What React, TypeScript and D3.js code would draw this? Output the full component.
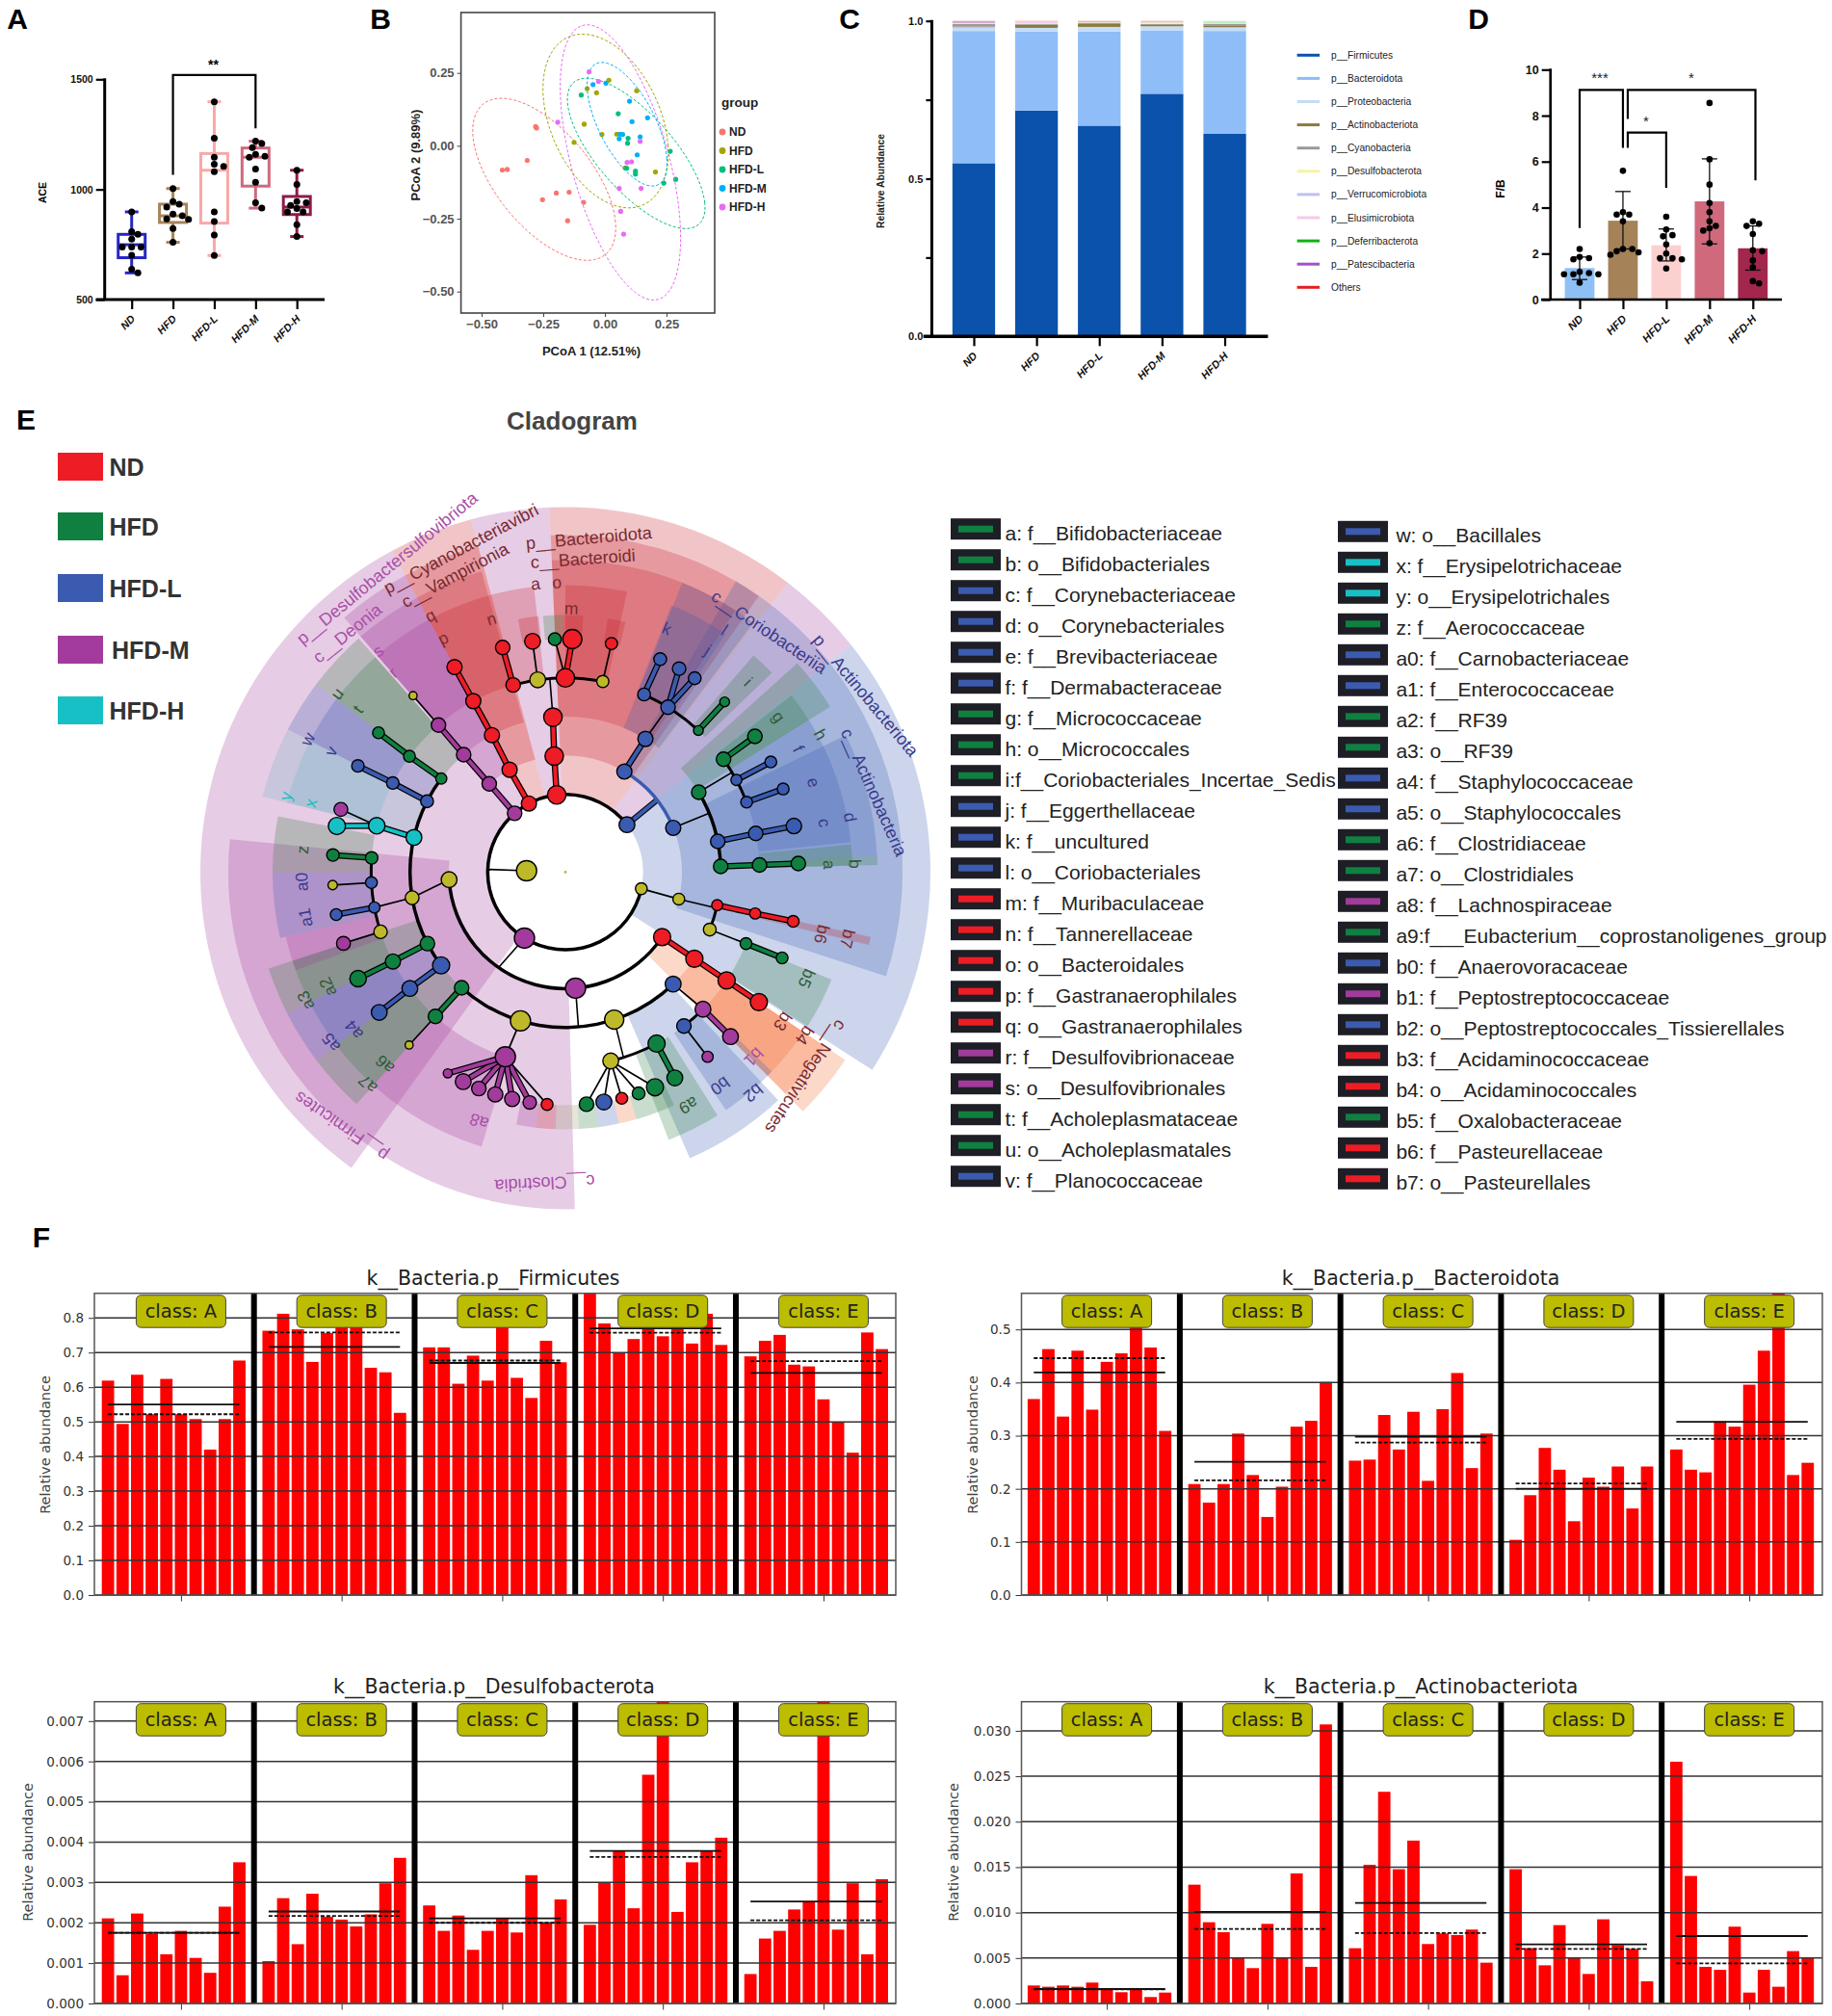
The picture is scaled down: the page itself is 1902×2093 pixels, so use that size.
import { useEffect, useRef } from "react";
import * as d3 from "d3";

const groups = ["ND", "HFD", "HFD-L", "HFD-M", "HFD-H"];
const SANS = "'Liberation Sans', Arial, sans-serif";
const DEJAVU = "'DejaVu Sans', sans-serif";

// panel A
const aceColors = ["#2626c4", "#a6845a", "#f9a8a8", "#cf6a7e", "#8e1a4a"];
const acePoints = [
  [898, 808, 796, 774, 738, 738, 738, 701, 638, 621],
  [1004, 945, 933, 920, 888, 880, 866, 864, 822, 760],
  [1398, 1232, 1146, 1114, 1105, 1080, 898, 854, 793, 700],
  [1219, 1208, 1190, 1159, 1150, 1146, 1092, 1032, 939, 915],
  [1087, 1023, 945, 939, 927, 913, 898, 898, 840, 786],
];
const aceBoxes = [
  [621, 690, 749, 796, 898],
  [760, 850, 880, 933, 1004],
  [700, 847, 1087, 1163, 1398],
  [915, 1015, 1146, 1188, 1219],
  [786, 886, 920, 968, 1087],
];

// panel B
const pcoaColors = ["#F8766D", "#A3A500", "#00BF7D", "#00B0F6", "#E76BF3"];
const pcoaX = [
  [-0.281, -0.277, -0.315, -0.416, -0.396, -0.197, -0.145, -0.253, -0.086, -0.151],
  [-0.072, -0.034, 0.016, 0.129, -0.084, -0.125, -0.012, 0.048, 0.082, 0.205],
  [-0.096, 0.054, 0.094, 0.092, 0.088, 0.124, 0.124, 0.265, 0.239, 0.287],
  [-0.048, 0.004, 0.1, 0.173, 0.11, 0.062, 0.072, 0.058, 0.143, 0.131],
  [-0.064, -0.026, -0.191, 0.143, 0.108, 0.09, 0.058, 0.147, 0.064, 0.076],
];
const pcoaY = [
  [0.066, 0.061, -0.05, -0.083, -0.081, -0.162, -0.159, -0.185, -0.194, -0.257],
  [0.196, 0.182, 0.225, 0.189, 0.074, 0.012, 0.039, 0.04, -0.076, -0.09],
  [0.174, 0.11, 0.026, 0.009, -0.077, -0.087, -0.097, -0.019, -0.128, -0.115],
  [0.21, 0.215, 0.153, 0.096, 0.083, 0.04, 0.039, 0.024, 0.031, -0.031],
  [0.254, 0.221, 0.081, 0.015, -0.055, -0.057, -0.146, -0.146, -0.225, -0.303],
];
// centre x, centre y, half width, half height, correlation
const pcoaEllipses = [
  [-0.246, -0.115, 0.29, 0.278, -0.6],
  [0.003, 0.085, 0.254, 0.298, -0.37],
  [0.127, -0.026, 0.279, 0.258, -0.72],
  [0.09, 0.074, 0.162, 0.212, -0.63],
  [0.063, -0.057, 0.244, 0.472, -0.55],
];

// panel C
const phyla = [
  "p__Firmicutes", "p__Bacteroidota", "p__Proteobacteria", "p__Actinobacteriota", "p__Cyanobacteria",
  "p__Desulfobacterota", "p__Verrucomicrobiota", "p__Elusimicrobiota", "p__Deferribacterota",
  "p__Patescibacteria", "Others",
];
const phylaColors = [
  "#0a52ab", "#8fbdf7", "#c4dcf7", "#8a7a3e", "#9a9a9a", "#f7f3a0", "#c0c0f0", "#f7c8e8", "#14b014", "#a850c8", "#e61e1e",
];
const phylaBarOpacity = [1, 1, 1, 1, 1, 1, 1, 1, 0.25, 1, 0.45];
const abundance = [
  [0.549, 0.419, 0.012, 0.002, 0.009, 0.002, 0.001, 0.001, 0, 0.001, 0.004],
  [0.716, 0.25, 0.012, 0.01, 0.003, 0.002, 0.001, 0.005, 0, 0, 0.001],
  [0.668, 0.298, 0.015, 0.011, 0.001, 0.002, 0.001, 0.001, 0, 0, 0.003],
  [0.769, 0.2, 0.014, 0.006, 0.001, 0.005, 0.002, 0.001, 0, 0, 0.002],
  [0.642, 0.326, 0.012, 0.004, 0.006, 0.001, 0.001, 0.001, 0.007, 0, 0],
];

// panel D
const fbColors = ["#8fc0f5", "#a58258", "#fdd0d0", "#d0697c", "#a3264d"];
const fbMeans = [1.37, 3.43, 2.36, 4.27, 2.23];
const fbLow = [0.87, 2.2, 1.68, 2.42, 1.28];
const fbHigh = [1.85, 4.7, 3.07, 6.12, 3.2];
const fbPoints = [
  [2.2, 1.85, 1.8, 1.75, 1.2, 1.15, 1.1, 1.1, 1.1, 0.73],
  [5.6, 3.8, 3.7, 3.7, 3.4, 2.2, 2.2, 2.1, 2.05, 1.95],
  [3.6, 3.05, 2.8, 2.75, 2.4, 2.0, 1.8, 1.8, 1.75, 1.35],
  [8.55, 6.1, 5, 4.2, 3.8, 3.4, 3.2, 3.1, 3.0, 2.45],
  [3.4, 3.3, 3.2, 2.85, 2.15, 2.1, 1.7, 1.4, 0.8, 0.7],
];

// panel E
const cladeColors: any = { r: "#ee1c25", g: "#0f8040", b: "#3b5bb0", p: "#a23b9c", c: "#17c0c4", y: "#bdb92a", k: "#000" };
const labelColors: any = { r: "#7a2a30", g: "#2f5a3a", b: "#3a3a8c", p: "#a84ea8", c: "#17c0c4" };
const keyGroups = [["ND", "r"], ["HFD", "g"], ["HFD-L", "b"], ["HFD-M", "p"], ["HFD-H", "c"]];
// angle from, angle to, inner depth, outer ring, colour
const cladeWedges: any[] = [
  [215.9, 331.6, 2, "phylum", "p"], [345, 357.5, 2, "phylum", "p"], [37.5, 51.5, 2, "phylum", "p"],
  [-2.5, 37.5, 2, "phylum", "r"], [-28.4, -15, 2, "phylum", "r"], [51.5, 122.8, 2, "phylum", "b"],
  [214.6, 275.6, 3, "class", "p"], [178.4, 214.6, 3, "class", "p"], [-41, -28.4, 3, "class", "p"],
  [-2.5, 35, 3, "class", "r"], [-28.4, -15, 3, "class", "r"], [30.4, 51.5, 3, "class", "b"],
  [51.5, 108, 3, "class", "b"], [123.9, 135.2, 3, "class", "o"],
  [-2.5, 33, 4, "order", "r"], [-28.4, -15.6, 4, "order", "r"], [-41, -28.4, 4, "order", "p"],
  [123.9, 135.2, 4, "order", "o"], [137, 156.5, 4, "order", "b"], [222, 233, 4, "order", "g"],
  [243, 252, 4, "order", "g"], [233, 243, 4, "order", "b"], [284, 297.2, 4, "order", "c"],
  [297.2, 307, 4, "order", "b"], [307, 318.5, 4, "order", "g"], [22, 37, 4, "order", "b"],
  [48, 58, 4, "order", "g"], [64, 87, 4, "order", "b"], [87, 88.7, 4, "order", "g"], [102, 103.5, 5, "order", "r"],
  [0, 12.4, 5, "family", "r"], [-15.6, -6.3, 5, "family", "r"], [-28.4, -15.6, 5, "family", "r"],
  [-41, -28.4, 5, "family", "p"], [123.9, 135.2, 5, "family", "o"], [112, 122.5, 5, "family", "g"],
  [148, 158.9, 5, "family", "g"], [134, 146, 5, "family", "b"], [222, 233, 5, "family", "g"],
  [243, 252, 5, "family", "g"], [233, 243, 5, "family", "b"], [307, 318.5, 5, "family", "g"],
  [297.2, 307, 5, "family", "b"], [284, 297.2, 5, "family", "c"], [270, 281, 5, "wide", "g"],
  [257, 270, 5, "wide", "b"], [250, 257, 5, "family", "p"], [197, 214, 5, "family", "p"],
  [214, 222, 5, "family", "p"], [21.7, 31.3, 5, "family", "b"], [31.3, 34, 5, "family", "b"],
  [41, 46, 5, "family", "g"], [52, 58, 5, "family", "g"], [58, 74, 5, "family", "b"], [74, 84, 5, "family", "b"],
  [84.5, 88.7, 5, "family", "g"],
  [155, 159.5, 6, "leaf", "g"], [159.5, 164, 6, "leaf", "g"], [164, 168, 6, "leaf", "o"], [168, 172.6, 6, "leaf", "b"],
  [172.6, 177, 6, "leaf", "g"], [177, 182.2, 6, "leaf", "k"], [182.2, 186.6, 6, "leaf", "r"], [186.6, 191, 6, "leaf", "p"],
  [-10.6, -6, 6, "leaf", "r"], [-5, -0.5, 6, "leaf", "g"], [-0.5, 4, 6, "leaf", "r"], [9.5, 13.5, 6, "leaf", "r"],
];
// depth, angle from, angle to, colour, width
const cladeArcs: any[] = [
  [2, 102.3, 412.4, "k", 3.5], [3, 123.9, 266.3, "k", 3.5], [3, 30.4, 67.7, "b", 3.5], [4, 136.1, 221.9, "k", 3.5],
  [4, 233.1, 307, "k", 3.5], [4, 59.1, 87.9, "k", 3.5], [4, 102.3, 111.7, "k", 3], [5, -15.6, 11.1, "k", 3],
  [5, 23.9, 43.2, "k", 3], [5, 54.5, 68.9, "k", 3], [5, 134.9, 142.4, "k", 3], [5, 152, 166.5, "k", 3], [5, 252.1, 274.2, "k", 3],
];
// angle, depth, angle, depth, colour
const cladeStalks: any[] = [
  [272, 1, 272, 2, "k"], [211.8, 2, 215, 3, "k"], [175, 3, 175.2, 4, "k"], [161.7, 4, 162.6, 5, "k"], [67.7, 3, 67.7, 4, "k"],
  [59.1, 4, 59.1, 5, "k"], [103.4, 3, 103.4, 4, "k"], [-4.6, 4, -4.6, 5, "k"], [52.4, 2, 51.8, 3, "b"],
];
// id, parent, angle, depth, size, colour, link
const cladeNodes: any[] = [
  ["y0", "", 272, 1, 4.7, "y", ""],
  ["B1", "", -6.4, 2, 4.2, "r", ""], ["B2", "B1", -5.5, 3, 4.2, "r", "t"], ["B3", "B2", -4.6, 4, 4.2, "r", "t"],
  ["B4", "", -8.2, 5, 3.4, "y", ""], ["B5", "", 0, 5, 4.2, "r", ""], ["B6", "", -15.6, 5, 3, "r", ""], ["B7", "", 11.1, 5, 2.3, "y", ""],
  ["", "B6", -15.6, 6, 3, "r", "t"], ["", "B4", -8.1, 6, 3.4, "r", "n"], ["", "B5", -2.6, 6, 2.5, "g", "n"],
  ["", "B5", 1.7, 6, 4.4, "r", "t"], ["", "B7", 11.4, 6, 2.3, "r", "n"],
  ["C1", "", -28, 2, 3.2, "r", ""], ["C2", "C1", -28.6, 3, 3.2, "r", "t"], ["C3", "C2", -28.2, 4, 3.2, "r", "t"],
  ["C4", "C3", -28.3, 5, 3.2, "r", "t"], ["", "C4", -28.4, 6, 3.2, "r", "t"],
  ["D1", "", -40.8, 2, 3, "p", ""], ["D2", "D1", -40.8, 3, 3, "p", "t"], ["D3", "D2", -40.9, 4, 3, "p", "t"],
  ["D4", "D3", -40.8, 5, 3, "p", "t"], ["", "D4", -40.8, 6, 1.1, "y", "n"],
  ["A1", "", 52.4, 2, 3.4, "b", ""], ["A2", "", 30.4, 3, 3.2, "b", ""], ["A3", "A2", 31, 4, 3.2, "b", "t"], ["A4", "A3", 31.9, 5, 3, "b", "n"],
  ["A5", "", 23.9, 5, 2.5, "b", ""], ["A6", "", 43.2, 5, 1.6, "g", ""],
  ["", "A5", 24, 6, 2.5, "b", "t"], ["", "A4", 29.2, 6, 2.7, "b", "t"], ["", "A4", 33.7, 6, 2.5, "b", "t"], ["", "A6", 43.1, 6, 1.6, "g", "t"],
  ["A7", "", 67.7, 3, 3.2, "b", ""], ["A8", "", 59.1, 4, 3, "g", ""], ["A9", "", 78.6, 4, 3, "b", ""], ["A10", "", 87.9, 4, 3, "g", ""],
  ["A11", "", 54.5, 5, 3, "g", ""], ["A12", "", 61.7, 5, 2, "b", ""], ["A13", "", 68.9, 5, 2.2, "b", ""],
  ["", "A11", 54.4, 6, 3, "g", "t"], ["", "A12", 61.8, 6, 2.2, "b", "t"], ["", "A13", 69.1, 6, 2.2, "b", "t"],
  ["A14", "A9", 78.5, 5, 3, "b", "t"], ["", "A14", 78.6, 6, 3.3, "b", "t"], ["A15", "A10", 87.9, 5, 3, "g", "t"], ["", "A15", 87.9, 6, 3, "g", "t"],
  ["Y1", "", 102.3, 2, 2.2, "y", ""], ["Y2", "Y1", 103.4, 3, 2.2, "y", "n"], ["Y3", "", 102.3, 4, 2, "r", ""], ["Y4", "", 111.7, 4, 2.5, "y", ""],
  ["Y5", "Y3", 102.3, 5, 2, "r", "t"], ["", "Y5", 102.2, 6, 2.2, "r", "t"], ["Y6", "Y4", 111.6, 5, 2.2, "g", "n"], ["", "Y6", 111.6, 6, 2.2, "g", "t"],
  ["F1", "", 211.8, 2, 4.7, "p", ""], ["N1", "", 123.9, 3, 3.8, "r", ""], ["CL", "", 175, 3, 4.7, "p", ""], ["BA", "", 266.3, 3, 3.4, "y", ""],
  ["N2", "N1", 123.9, 4, 3.8, "r", "t"], ["N3", "N2", 123.9, 5, 3.8, "r", "t"], ["", "N3", 123.9, 6, 3.8, "r", "t"],
  ["O1", "", 136.1, 4, 3.4, "b", ""], ["O2", "", 161.7, 4, 4.4, "y", ""], ["O3", "", 196.8, 4, 4.7, "y", ""], ["O4", "", 221.9, 4, 3, "g", ""],
  ["P1", "O1", 134.9, 5, 3.4, "p", "n"], ["P2", "", 142.4, 5, 3, "b", ""], ["", "P1", 134.9, 6, 3.4, "p", "t"], ["", "P2", 142.4, 6, 2, "p", "n"],
  ["Q1", "", 166.5, 5, 3.4, "y", ""], ["Q2", "", 152, 5, 3.8, "g", ""], ["", "Q2", 152, 6, 3.4, "g", "t"],
  ["", "Q1", 157.4, 6, 3.8, "g", "n"], ["", "Q1", 161.7, 6, 2.5, "g", "n"], ["", "Q1", 166, 6, 2.2, "r", "n"], ["", "Q1", 170.5, 6, 3.4, "b", "n"], ["", "Q1", 174.8, 6, 3, "g", "n"],
  ["R1", "O3", 198, 5, 4.7, "p", "n"], ["", "R1", 184.5, 6, 2.2, "r", "n"], ["", "R1", 188.8, 6, 2.7, "p", "t"], ["", "R1", 193.2, 6, 3.2, "p", "t"],
  ["", "R1", 197.5, 6, 3.2, "p", "t"], ["", "R1", 201.8, 6, 3, "p", "t"], ["", "R1", 206, 6, 3.4, "p", "t"], ["", "R1", 210.3, 6, 1.4, "p", "t"],
  ["S1", "O4", 222, 5, 3, "g", "t"], ["", "S1", 222.1, 6, 1.1, "y", "n"],
  ["T1", "", 307, 4, 2, "g", ""], ["T2", "", 297.1, 4, 2.5, "b", ""], ["T3", "", 282.9, 4, 3.4, "c", ""], ["T4", "BA", 260.5, 4, 2.8, "y", "n"],
  ["T5", "", 242.6, 4, 3, "g", ""], ["T6", "", 233.1, 4, 3.8, "b", ""],
  ["T7", "T1", 306.6, 5, 2.2, "g", "t"], ["", "T7", 306.7, 6, 2.2, "g", "t"], ["T8", "T2", 297.3, 5, 2.4, "b", "t"], ["", "T8", 297.1, 6, 2.4, "b", "t"],
  ["T9", "T3", 283.8, 5, 3.6, "c", "t"], ["", "T9", 281.4, 6, 3.8, "c", "t"], ["", "T9", 285.6, 6, 2.8, "p", "n"],
  ["U1", "", 274.2, 5, 2.4, "g", ""], ["U2", "", 266.9, 5, 2.2, "b", ""], ["U3", "T4", 259.5, 5, 2, "b", "n"], ["U4", "", 252.1, 5, 2.7, "y", ""],
  ["", "U1", 274.2, 6, 2.4, "g", "t"], ["", "U2", 266.8, 6, 1.5, "y", "n"], ["", "U3", 259.5, 6, 2.2, "b", "t"], ["", "U4", 252.2, 6, 2.8, "p", "n"],
  ["V1", "T5", 242.6, 5, 3.2, "g", "t"], ["", "V1", 242.8, 6, 3.6, "g", "t"], ["V2", "T6", 233.2, 5, 3.4, "b", "t"], ["", "V2", 233, 6, 3.4, "b", "t"],
];
// text, angle, ring, colour
const cladeLetters: any[] = [
  ["k", 22.6, 0, "b"], ["l", 33.3, 1, "b"], ["j", 32.7, 0, "b"], ["i", 43.9, 0, "g"], ["g", 53.9, 0, "g"], ["h", 61.7, 1, "g"],
  ["f", 62.1, 0, "b"], ["e", 70.1, 0, "b"], ["c", 79.2, 0, "b"], ["d", 79.1, 1, "b"], ["a", 88.4, 0, "g"], ["b", 88.4, 1, "g"],
  ["b6", 103.6, 0, "r"], ["b7", 103.3, 1, "r"], ["b5", 113.8, 0, "g"], ["b3", 124.5, 0, "r"], ["b4", 124.3, 1, "r"], ["b1", 134.5, 0, "p"],
  ["b2", 139.6, 1, "b"], ["b0", 144.1, 0, "b"], ["a9", 152.2, 0, "g"], ["a8", 199.1, 0, "p"], ["a6", 223.2, 0, "g"], ["a7", 223, 1, "g"],
  ["a4", 233.3, 0, "b"], ["a5", 234, 1, "b"], ["a2", 244.2, 0, "g"], ["a3", 243.7, 1, "g"], ["a1", 260.1, 0, "b"], ["a0", 267.9, 0, "b"],
  ["z", 274.9, 0, "g"], ["x", 285.2, 0, "c"], ["y", 285.2, 1, "c"], ["v", 297.3, 0, "b"], ["w", 297.3, 1, "b"], ["t", 308.1, 0, "g"],
  ["u", 308, 1, "g"], ["r", 319.2, 0, "p"], ["s", 319.7, 1, "p"], ["p", 332.4, 0, "r"], ["q", 332.2, 1, "r"], ["n", 343.7, 0, "r"],
  ["a", 354.1, 1, "r"], ["o", 358.3, 1, "r"], ["m", 1.3, 0, "r"],
];
// text, angle, radius, rotation, colour
const cladeNames: any[] = [
  ["p__Bacteroidota", 4, 348, -5, "r"], ["c__Bacteroidi", 3.2, 326, -4, "r"], ["p__Cyanobacteriavibri", -17.9, 353, -28, "r"],
  ["c__Vampirionia", -20.4, 329, -28, "r"], ["p__Desulfobactersulfovibriota", -30.4, 366, -39.5, "p"], ["c__Deonia", -42.4, 336, -39, "p"],
  ["p__Actinobacteriota", 59.5, 362, 50, "b"], ["c__Coriobacteriia", 40.3, 327, 34, "b"], ["c__Actinobacteria", 75.5, 331, 66, "b"],
  ["c__Negativicutes", 130.4, 328, 123.7, "r"], ["p__Firmicutes", 221.4, 352, 214.4, "p"], ["c__Clostridia", 183.8, 324, 177, "p"],
];
const legendLeft: any[] = [
  ["a: f__Bifidobacteriaceae", "g"], ["b: o__Bifidobacteriales", "g"], ["c: f__Corynebacteriaceae", "b"], ["d: o__Corynebacteriales", "b"],
  ["e: f__Brevibacteriaceae", "b"], ["f: f__Dermabacteraceae", "b"], ["g: f__Micrococcaceae", "g"], ["h: o__Micrococcales", "g"],
  ["i:f__Coriobacteriales_Incertae_Sedis", "g"], ["j: f__Eggerthellaceae", "b"], ["k: f__uncultured", "b"], ["l: o__Coriobacteriales", "b"],
  ["m: f__Muribaculaceae", "r"], ["n: f__Tannerellaceae", "r"], ["o: o__Bacteroidales", "r"], ["p: f__Gastranaerophilales", "r"],
  ["q: o__Gastranaerophilales", "r"], ["r: f__Desulfovibrionaceae", "p"], ["s: o__Desulfovibrionales", "p"], ["t: f__Acholeplasmataceae", "g"],
  ["u: o__Acholeplasmatales", "g"], ["v: f__Planococcaceae", "b"],
];
const legendRight: any[] = [
  ["w: o__Bacillales", "b"], ["x: f__Erysipelotrichaceae", "c"], ["y: o__Erysipelotrichales", "c"], ["z: f__Aerococcaceae", "g"],
  ["a0: f__Carnobacteriaceae", "b"], ["a1: f__Enterococcaceae", "b"], ["a2: f__RF39", "g"], ["a3: o__RF39", "g"],
  ["a4: f__Staphylococcaceae", "b"], ["a5: o__Staphylococcales", "b"], ["a6: f__Clostridiaceae", "g"], ["a7: o__Clostridiales", "g"],
  ["a8: f__Lachnospiraceae", "p"], ["a9:f___Eubacterium__coprostanoligenes_group", "g"], ["b0: f__Anaerovoracaceae", "b"],
  ["b1: f__Peptostreptococcaceae", "p"], ["b2: o__Peptostreptococcales_Tissierellales", "b"], ["b3: f__Acidaminococcaceae", "r"],
  ["b4: o__Acidaminococcales", "r"], ["b5: f__Oxalobacteraceae", "g"], ["b6: f__Pasteurellaceae", "r"], ["b7: o__Pasteurellales", "r"],
];

// panel F
const classNames = ["class: A", "class: B", "class: C", "class: D", "class: E"];
const firmicutes = [
  [0.619, 0.494, 0.636, 0.522, 0.624, 0.522, 0.508, 0.42, 0.508, 0.677],
  [0.763, 0.812, 0.767, 0.673, 0.756, 0.785, 0.785, 0.656, 0.643, 0.526],
  [0.715, 0.715, 0.61, 0.691, 0.619, 0.795, 0.627, 0.569, 0.734, 0.672],
  [0.9, 0.784, 0.699, 0.739, 0.777, 0.747, 0.777, 0.726, 0.812, 0.722],
  [0.689, 0.734, 0.751, 0.665, 0.66, 0.565, 0.5, 0.411, 0.758, 0.71],
];
const firmicutesMean = [0.55, 0.716, 0.67, 0.77, 0.641];
const firmicutesMedian = [0.522, 0.758, 0.677, 0.757, 0.675];
const bacteroidota = [
  [0.369, 0.463, 0.336, 0.46, 0.349, 0.439, 0.455, 0.505, 0.466, 0.309],
  [0.209, 0.174, 0.209, 0.304, 0.226, 0.147, 0.204, 0.317, 0.328, 0.401],
  [0.253, 0.255, 0.339, 0.274, 0.345, 0.215, 0.35, 0.418, 0.239, 0.304],
  [0.104, 0.188, 0.277, 0.236, 0.139, 0.221, 0.204, 0.242, 0.163, 0.242],
  [0.274, 0.236, 0.231, 0.327, 0.317, 0.396, 0.46, 0.57, 0.226, 0.249],
];
const bacteroidotaMean = [0.419, 0.251, 0.298, 0.2, 0.326];
const bacteroidotaMedian = [0.446, 0.216, 0.287, 0.21, 0.294];
const desulfo = [
  [0.00211, 0.0007, 0.00223, 0.00173, 0.00122, 0.0018, 0.00113, 0.00076, 0.0024, 0.0035],
  [0.00105, 0.00261, 0.00147, 0.00272, 0.00215, 0.00208, 0.00191, 0.00221, 0.00298, 0.00361],
  [0.00243, 0.0018, 0.00218, 0.00133, 0.0018, 0.0021, 0.00176, 0.00318, 0.002, 0.00258],
  [0.00195, 0.003, 0.00378, 0.00236, 0.00567, 0.0076, 0.00227, 0.0035, 0.00378, 0.00411],
  [0.00073, 0.00161, 0.0018, 0.00233, 0.00253, 0.0076, 0.00183, 0.00298, 0.00122, 0.00308],
];
const desulfoMean = [0.00175, 0.00228, 0.00211, 0.00378, 0.00253];
const desulfoMedian = [0.00175, 0.00217, 0.002, 0.00363, 0.00206];
const actino = [
  [0.00198, 0.00184, 0.00198, 0.00184, 0.0023, 0.00155, 0.00124, 0.00155, 0.00071, 0.0012],
  [0.01307, 0.00894, 0.00784, 0.00505, 0.00389, 0.00876, 0.00505, 0.01431, 0.00403, 0.0307],
  [0.00608, 0.01526, 0.02329, 0.01477, 0.01792, 0.00654, 0.0077, 0.00753, 0.00813, 0.00449],
  [0.01477, 0.00608, 0.0042, 0.00862, 0.00505, 0.00325, 0.00926, 0.00643, 0.006, 0.00244],
  [0.0266, 0.01403, 0.00403, 0.00371, 0.00845, 0.0012, 0.00371, 0.00184, 0.00576, 0.00505],
];
const actinoMean = [0.00159, 0.01007, 0.01106, 0.0065, 0.00742];
const actinoMedian = [0.00155, 0.0082, 0.00774, 0.006, 0.00442];

const rad = (a: number) => (a * Math.PI) / 180;

// beeswarm offsets, so the dots of a group do not sit on each other
const swarm = (values: number[], y: any, r: number) => {
  const placed: any[] = [];
  return values.map((v) => {
    const py = y(v);
    for (let k = 0; k < 40; k++) {
      const dx = ((k + 1) >> 1) * (k % 2 ? 1 : -1) * r * 0.9;
      if (placed.every((p) => Math.hypot(p[0] - dx, p[1] - py) >= r * 1.9)) {
        placed.push([dx, py]);
        return dx;
      }
    }
    return 0;
  });
};

const catAxis = (svg: any, x: any, y0: number, x0: number, x1: number, font: number, tick: number, labelDy: number, w = 3) => {
  const g = svg.append("g").attr("transform", `translate(0,${y0})`).call(d3.axisBottom(x).tickSize(tick).tickSizeOuter(0));
  g.select(".domain").remove();
  g.selectAll("line").attr("stroke", "#000").attr("stroke-width", 2.2);
  g.selectAll("text")
    .attr("font-family", SANS).attr("font-size", font).attr("font-weight", "bold").attr("font-style", "italic")
    .attr("text-anchor", "end").attr("x", 0).attr("y", 0).attr("dy", ".35em")
    .attr("transform", `translate(1,${labelDy}) rotate(-45)`).attr("fill", "#111");
  svg.append("line").attr("x1", x0).attr("x2", x1).attr("y1", y0).attr("y2", y0).attr("stroke", "#000").attr("stroke-width", w);
};

const valueAxis = (svg: any, y: any, x0: number, top: number, bottom: number, ticks: number[], fmt: any, font: number, tick: number, w = 3) => {
  const g = svg.append("g").attr("transform", `translate(${x0},0)`)
    .call(d3.axisLeft(y).tickValues(ticks).tickFormat(fmt).tickSize(tick).tickPadding(3));
  g.select(".domain").remove();
  g.selectAll("line").attr("stroke", "#000").attr("stroke-width", 2.2);
  g.selectAll("text").attr("font-family", SANS).attr("font-size", font).attr("font-weight", "bold").attr("fill", "#111");
  svg.append("line").attr("x1", x0).attr("x2", x0).attr("y1", top - 1).attr("y2", bottom + 1).attr("stroke", "#000").attr("stroke-width", w);
};

const letter = (svg: any, t: string, x: number, y: number) =>
  svg.append("text").attr("x", x).attr("y", y).attr("dy", ".36em").attr("text-anchor", "middle")
    .attr("font-family", SANS).attr("font-size", 30).attr("font-weight", "bold").attr("fill", "#000").text(t);

const drawAce = (svg: any) => {
  const y = d3.scaleLinear().domain([500, 1500]).range([311, 82.3]);
  const x = d3.scalePoint().domain(groups).range([136.7, 308.2]);
  valueAxis(svg, y, 108.7, 82.3, 311, [500, 1000, 1500], d3.format("d"), 10.5, 9);
  catAxis(svg, x, 311, 99.5, 337, 11, 10, 18);
  groups.forEach((name, i) => {
    const [lo, q1, med, q3, hi] = aceBoxes[i];
    const cx = x(name) as number;
    const c = aceColors[i];
    const g = svg.append("g").attr("stroke", c).attr("stroke-width", 3).attr("fill", "none");
    g.append("line").attr("x1", cx).attr("x2", cx).attr("y1", y(lo)).attr("y2", y(hi));
    [lo, hi].forEach((v) => g.append("line").attr("x1", cx - 7).attr("x2", cx + 7).attr("y1", y(v)).attr("y2", y(v)));
    g.append("rect").attr("x", cx - 14).attr("width", 28).attr("y", y(q3)).attr("height", y(q1) - y(q3)).attr("fill", "#fff");
    g.append("line").attr("x1", cx - 14).attr("x2", cx + 14).attr("y1", y(med)).attr("y2", y(med));
    const off = swarm(acePoints[i], y, 3.6);
    svg.append("g").selectAll("circle").data(acePoints[i]).join("circle")
      .attr("cx", (_: any, k: number) => cx + off[k]).attr("cy", (d: number) => y(d)).attr("r", 3.5).attr("fill", "#000");
  });
  const xa = x("HFD") as number;
  const xb = x("HFD-M") as number;
  svg.append("path").attr("fill", "none").attr("stroke", "#000").attr("stroke-width", 2.2)
    .attr("d", `M${xa},${y(1066)}V${y(1519)}H${xb}V${y(1277)}`);
  svg.append("text").attr("x", (xa + xb) / 2 - 1).attr("y", 72).attr("text-anchor", "middle").attr("font-family", SANS)
    .attr("font-weight", "bold").attr("font-size", 14).text("**");
  svg.append("text").attr("transform", "translate(44,200) rotate(-90)").attr("text-anchor", "middle").attr("dy", ".35em")
    .attr("font-family", SANS).attr("font-weight", "bold").attr("font-size", 10.5).text("ACE");
};

const drawPcoa = (svg: any) => {
  const x = d3.scaleLinear().domain([-0.5, 0.25]).range([500, 692]);
  const y = d3.scaleLinear().domain([-0.5, 0.25]).range([302.7, 75.7]);
  svg.append("rect").attr("x", 478.6).attr("y", 13).attr("width", 263.4).attr("height", 312)
    .attr("fill", "#fff").attr("stroke", "#444").attr("stroke-width", 1.6);
  const fmt = d3.format(".2f");
  const minus = (d: any) => fmt(d).replace("-", "\u2212");
  const gx = svg.append("g").attr("transform", "translate(0,325)").call(d3.axisBottom(x).tickValues([-0.5, -0.25, 0, 0.25]).tickFormat(minus).tickSize(4));
  const gy = svg.append("g").attr("transform", "translate(478.6,0)").call(d3.axisLeft(y).tickValues([-0.5, -0.25, 0, 0.25]).tickFormat(minus).tickSize(4));
  [gx, gy].forEach((g) => {
    g.select(".domain").remove();
    g.selectAll("line").attr("stroke", "#444");
    g.selectAll("text").attr("font-family", SANS).attr("font-size", 13).attr("font-weight", "bold").attr("fill", "#555");
  });
  const line = d3.line().curve(d3.curveCardinalClosed);
  groups.forEach((name, i) => {
    const [cx, cy, rx, ry, rho] = pcoaEllipses[i];
    const pts = d3.range(0, 72).map((k) => {
      const t = (k / 72) * 2 * Math.PI;
      return [x(cx + rx * Math.cos(t)), y(cy + ry * (rho * Math.cos(t) + Math.sqrt(1 - rho * rho) * Math.sin(t)))] as [number, number];
    });
    svg.append("path").attr("d", line(pts)).attr("fill", "none").attr("stroke", pcoaColors[i]).attr("stroke-width", 1).attr("stroke-dasharray", "3 2");
    svg.append("g").selectAll("circle").data(pcoaX[i]).join("circle")
      .attr("cx", (d: number) => x(d)).attr("cy", (_: any, k: number) => y(pcoaY[i][k])).attr("r", 2.6).attr("fill", pcoaColors[i]);
    const ly = 137 + i * 19.5;
    svg.append("circle").attr("cx", 750).attr("cy", ly).attr("r", 3.4).attr("fill", pcoaColors[i]);
    svg.append("text").attr("x", 757).attr("y", ly).attr("dy", ".35em").attr("font-family", SANS).attr("font-size", 12)
      .attr("font-weight", "bold").attr("fill", "#222").text(name);
  });
  svg.append("text").attr("x", 749).attr("y", 106).attr("dy", ".35em").attr("font-family", SANS).attr("font-size", 13.5)
    .attr("font-weight", "bold").attr("fill", "#222").text("group");
  svg.append("text").attr("x", 614).attr("y", 364).attr("dy", ".35em").attr("text-anchor", "middle").attr("font-family", SANS)
    .attr("font-size", 13).attr("font-weight", "bold").attr("fill", "#222").text("PCoA 1 (12.51%)");
  svg.append("text").attr("transform", "translate(431,161) rotate(-90)").attr("dy", ".35em").attr("text-anchor", "middle")
    .attr("font-family", SANS).attr("font-size", 13).attr("font-weight", "bold").attr("fill", "#222").text("PCoA 2 (9.89%)");
};

const drawStack = (svg: any) => {
  const y = d3.scaleLinear().domain([0, 1]).range([349.3, 21.7]);
  const x = d3.scaleBand().domain(groups).range([978.4, 1304.1]).paddingInner(0.32).paddingOuter(0.16);
  const rows = abundance.map((row, i) => {
    const o: any = { name: groups[i] };
    phyla.forEach((p, k) => (o[p] = row[k]));
    return o;
  });
  const stacked = d3.stack().keys(phyla)(rows);
  stacked.forEach((s: any, k: number) => {
    svg.append("g").selectAll("rect").data(s).join("rect")
      .attr("x", (d: any) => x(d.data.name)).attr("width", x.bandwidth())
      .attr("y", (d: any) => y(d[1])).attr("height", (d: any) => y(d[0]) - y(d[1]))
      .attr("fill", phylaColors[k]).attr("fill-opacity", phylaBarOpacity[k]);
  });
  const xp = d3.scalePoint().domain(groups).range([1011, 1271.5]);
  valueAxis(svg, y, 967.4, 21.7, 349.3, [0, 0.25, 0.5, 0.75, 1],
    (d: any) => (d * 2 === Math.round(d * 2) ? d3.format(".1f")(d) : ""), 11, 6);
  catAxis(svg, xp, 349.3, 958.7, 1316.4, 11, 10, 18, 3.5);
  phyla.forEach((p, k) => {
    const ly = 57.3 + k * 24.1;
    svg.append("line").attr("x1", 1346.6).attr("x2", 1370).attr("y1", ly).attr("y2", ly).attr("stroke", phylaColors[k]).attr("stroke-width", 3);
    svg.append("text").attr("x", 1382).attr("y", ly).attr("dy", ".35em").attr("font-family", SANS).attr("font-size", 10.2).attr("fill", "#222").text(p);
  });
  svg.append("text").attr("transform", "translate(914,188) rotate(-90)").attr("dy", ".35em").attr("text-anchor", "middle")
    .attr("font-family", SANS).attr("font-size", 10.3).attr("font-weight", "bold").attr("fill", "#222").text("Relative Abundance");
};

const drawFb = (svg: any) => {
  const y = d3.scaleLinear().domain([0, 10]).range([311, 72.3]);
  const x = d3.scalePoint().domain(groups).range([1640, 1819.8]);
  groups.forEach((name, i) => {
    const cx = x(name) as number;
    svg.append("rect").attr("x", cx - 15.4).attr("width", 30.8).attr("y", y(fbMeans[i])).attr("height", 311 - y(fbMeans[i])).attr("fill", fbColors[i]);
    const g = svg.append("g").attr("stroke", "#111").attr("stroke-width", 1.3);
    g.append("line").attr("x1", cx).attr("x2", cx).attr("y1", y(fbLow[i])).attr("y2", y(fbHigh[i]));
    [fbLow[i], fbHigh[i]].forEach((v) => g.append("line").attr("x1", cx - 8).attr("x2", cx + 8).attr("y1", y(v)).attr("y2", y(v)));
    const off = swarm(fbPoints[i], y, 3.6);
    svg.append("g").selectAll("circle").data(fbPoints[i]).join("circle")
      .attr("cx", (_: any, k: number) => cx + off[k]).attr("cy", (d: number) => y(d)).attr("r", 3.3).attr("fill", "#000");
  });
  valueAxis(svg, y, 1609.7, 72.3, 311, [0, 2, 4, 6, 8, 10], d3.format("d"), 12.5, 9, 2.6);
  catAxis(svg, x, 311, 1600, 1850, 11.5, 10, 18, 2.6);
  const [xn, xh, xl, , xhh] = groups.map((g) => x(g) as number);
  const bracket = (d: string) => svg.append("path").attr("d", d).attr("fill", "none").attr("stroke", "#000").attr("stroke-width", 2.2);
  bracket(`M${xn},${y(3.11)}V${y(9.12)}H${xh}V${y(6.6)}`);
  bracket(`M${xh + 5},${y(7.86)}V${y(9.12)}H${xhh + 2.7}V${y(5.18)}`);
  bracket(`M${xh + 5},${y(6.6)}V${y(7.26)}H${xl}V${y(4.86)}`);
  const stars = [["***", 1661, 86], ["*", 1756, 86], ["*", 1709, 131]];
  stars.forEach(([t, sx, sy]: any) =>
    svg.append("text").attr("x", sx).attr("y", sy).attr("text-anchor", "middle").attr("font-family", SANS).attr("font-size", 15)
      .attr("fill", "#222").text(t));
  svg.append("text").attr("transform", "translate(1558,196) rotate(-90)").attr("dy", ".35em").attr("text-anchor", "middle")
    .attr("font-family", SANS).attr("font-size", 12).attr("font-weight", "bold").text("F/B");
};

const drawClado = (svg: any) => {
  const cx = 587;
  const cy = 905.4;
  const g = svg.append("g").attr("transform", `translate(${cx},${cy})`);
  const rDepth = d3.scaleLinear().domain([0, 6]).range([0, 242]);
  const rSize = d3.scaleLinear().domain([1, 5]).range([4, 11]);
  const rings: any = { phylum: 379, class: 350, order: 324, family: 298, wide: 304, leaf: 267 };
  const wedgeColor: any = { r: "#c8202c", g: "#2f7a40", b: "#3b5bb0", p: "#a23b9c", c: "#6cb4c4", o: "#f4692f", k: "#9a9a70" };
  const arcGen = d3.arc();
  const pos = (a: number, d: number) => d3.pointRadial(rad(a), rDepth(d));

  cladeWedges.forEach(([a0, a1, d, ring, c]) => {
    g.append("path")
      .attr("d", arcGen({ startAngle: rad(a0), endAngle: rad(a1), innerRadius: rDepth(d), outerRadius: rings[ring] } as any))
      .attr("fill", wedgeColor[c]).attr("fill-opacity", 0.26);
  });

  const byId: any = {};
  cladeNodes.forEach((n) => { if (n[0]) byId[n[0]] = n; });
  const seg = (a: any, b: any, color: string, w: number) =>
    g.append("line").attr("x1", a[0]).attr("y1", a[1]).attr("x2", b[0]).attr("y2", b[1]).attr("stroke", color).attr("stroke-width", w);

  cladeStalks.forEach(([a0, d0, a1, d1, c]) => {
    if (c === "k") seg(pos(a0, d0), pos(a1, d1), "#000", 1.6);
    else {
      seg(pos(a0, d0), pos(a1, d1), "#000", 6);
    }
  });
  cladeArcs.forEach(([d, a0, a1, c, w]) => {
    const r = rDepth(d);
    g.append("path")
      .attr("d", arcGen({ startAngle: rad(a0), endAngle: rad(a1), innerRadius: r - w / 2, outerRadius: r + w / 2 } as any))
      .attr("fill", cladeColors[c]);
  });
  cladeStalks.forEach(([a0, d0, a1, d1, c]) => {
    if (c !== "k") seg(pos(a0, d0), pos(a1, d1), cladeColors[c], 4);
  });
  cladeNodes.forEach(([, parent, a, d, , c, link]) => {
    if (!parent) return;
    const p = byId[parent];
    const from = pos(p[2], p[3]);
    const to = pos(a, d);
    if (link === "t") {
      seg(from, to, "#000", 6.5);
      seg(from, to, cladeColors[c], 4);
    } else seg(from, to, "#000", 1.7);
  });
  g.append("g").selectAll("circle").data(cladeNodes).join("circle")
    .attr("cx", (n: any) => pos(n[2], n[3])[0]).attr("cy", (n: any) => pos(n[2], n[3])[1])
    .attr("r", (n: any) => rSize(n[4])).attr("fill", (n: any) => cladeColors[n[5]])
    .attr("stroke", "#000").attr("stroke-width", 1.4);
  g.append("circle").attr("r", 1.4).attr("fill", "#a8c030");

  const text = (t: string, a: number, r: number, rot: number, c: string, size: number) => {
    const [px, py] = d3.pointRadial(rad(a), r);
    g.append("text").attr("transform", `translate(${px},${py}) rotate(${rot})`).attr("text-anchor", "middle").attr("dy", ".35em")
      .attr("font-family", SANS).attr("font-size", size).attr("fill", labelColors[c]).text(t);
  };
  cladeLetters.forEach(([t, a, ring, c]) => text(t, a, ring ? 301 : 274, a, c, 17.5));
  cladeNames.forEach(([t, a, r, rot, c]) => text(t, a, r, rot, c, 18));

  // key on the left
  keyGroups.forEach(([name, c], i) => {
    const ty = [470, 532, 596, 660, 723][i];
    svg.append("rect").attr("x", 60).attr("y", ty).attr("width", 47).attr("height", 29).attr("fill", cladeColors[c]);
    svg.append("text").attr("x", name === "HFD-M" ? 116 : 113.5).attr("y", ty + 15).attr("dy", ".35em").attr("font-family", SANS)
      .attr("font-size", 25).attr("font-weight", "bold").attr("fill", "#333").text(name);
  });
  svg.append("text").attr("x", 594).attr("y", 437).attr("dy", ".35em").attr("text-anchor", "middle").attr("font-family", SANS)
    .attr("font-size", 26).attr("font-weight", "bold").attr("fill", "#444").text("Cladogram");

  const legendColumn = (rows: any[], swatchX: number, swatchW: number, textX: number, top: number) => {
    rows.forEach(([t, c]: any, i: number) => {
      const ly = top + i * 32;
      svg.append("rect").attr("x", swatchX).attr("y", ly - 15).attr("width", swatchW).attr("height", 22).attr("fill", "#1e1e26");
      svg.append("rect").attr("x", swatchX + 8).attr("y", ly - 7.5).attr("width", swatchW - 16).attr("height", 7).attr("fill", cladeColors[c]);
      svg.append("text").attr("x", textX).attr("y", ly).attr("dy", ".35em").attr("font-family", SANS).attr("font-size", 21)
        .attr("fill", "#222").text(t);
    });
  };
  legendColumn(legendLeft, 987, 52, 1043.5, 553.2);
  legendColumn(legendRight, 1389, 52, 1449.4, 555.8);
};

const drawAbundance = (svg: any, spec: any) => {
  const { title, values, means, medians, top, yMax, ticks, fmt, left, right, first, labelX, labelY, titleX } = spec;
  const bottom = top + 313.3;
  const g = svg.append("g");
  const x = d3.scaleLinear().domain([0, 53]).range([first, first + 53 * 15.16]);
  const y = d3.scaleLinear().domain([0, yMax]).range([bottom, top]).clamp(true);
  const slot = (c: number, i: number) => c * 11 + i;
  const rows = values.flatMap((row: number[], c: number) => row.map((v: number, i: number) => ({ v, s: slot(c, i) })));

  g.append("g").selectAll("rect").data(rows).join("rect")
    .attr("x", (d: any) => x(d.s) - 6.4).attr("width", 12.8)
    .attr("y", (d: any) => y(d.v)).attr("height", (d: any) => bottom - y(d.v)).attr("fill", "#fe0000");

  const gy = g.append("g").attr("transform", `translate(${left},0)`)
    .call(d3.axisLeft(y).tickValues(ticks).tickFormat(fmt).tickSize(6).tickPadding(5));
  gy.select(".domain").remove();
  gy.selectAll("line").attr("stroke", "#333").attr("stroke-width", 1);
  gy.selectAll("text").attr("font-family", DEJAVU).attr("font-size", 13.5).attr("fill", "#333");
  g.append("g").selectAll("line").data(ticks).join("line")
    .attr("x1", left).attr("x2", right).attr("y1", (d: number) => y(d)).attr("y2", (d: number) => y(d))
    .attr("stroke", "#333").attr("stroke-width", 1.5);

  const tickSlots = values.map((_: any, c: number) => slot(c, 5));
  const gx = g.append("g").attr("transform", `translate(0,${bottom})`)
    .call(d3.axisBottom(x).tickValues(tickSlots).tickFormat(() => "").tickSize(6.5));
  gx.select(".domain").remove();
  gx.selectAll("line").attr("stroke", "#333");

  g.append("g").selectAll("line").data([10, 21, 32, 43]).join("line")
    .attr("x1", (d: number) => x(d)).attr("x2", (d: number) => x(d)).attr("y1", top).attr("y2", bottom)
    .attr("stroke", "#000").attr("stroke-width", 6);

  values.forEach((_: any, c: number) => {
    const x0 = x(slot(c, 0));
    const x1 = x(slot(c, 9));
    g.append("line").attr("x1", x0).attr("x2", x1).attr("y1", y(means[c])).attr("y2", y(means[c])).attr("stroke", "#111").attr("stroke-width", 1.8);
    g.append("line").attr("x1", x0).attr("x2", x1).attr("y1", y(medians[c])).attr("y2", y(medians[c])).attr("stroke", "#111")
      .attr("stroke-width", 1.8).attr("stroke-dasharray", "4 2");
    const bx = x(slot(c, 5));
    g.append("rect").attr("x", bx - 46.5).attr("y", top + 2).attr("width", 93).attr("height", 33.5).attr("rx", 5)
      .attr("fill", "#bcbc00").attr("stroke", "#444").attr("stroke-width", 1);
    g.append("text").attr("x", bx).attr("y", top + 18.5).attr("dy", ".35em").attr("text-anchor", "middle")
      .attr("font-family", DEJAVU).attr("font-size", 19.5).attr("fill", "#222").text(classNames[c]);
  });

  g.append("rect").attr("x", left).attr("y", top).attr("width", right - left).attr("height", bottom - top)
    .attr("fill", "none").attr("stroke", "#555").attr("stroke-width", 1.5);
  g.append("text").attr("x", titleX).attr("y", top - 16).attr("dy", ".35em").attr("text-anchor", "middle")
    .attr("font-family", DEJAVU).attr("font-size", 20.5).attr("fill", "#222").text(title);
  g.append("text").attr("transform", `translate(${labelX},${labelY}) rotate(-90)`).attr("dy", ".35em").attr("text-anchor", "middle")
    .attr("font-family", DEJAVU).attr("font-size", 14.5).attr("fill", "#444").text("Relative abundance");
};

const App = () => {
  const ref = useRef(null);

  useEffect(() => {
    if (!ref.current) return;
    const svg = d3.select(ref.current) as any;
    svg.selectAll("*").remove();
    svg.append("rect").attr("width", 1902).attr("height", 2093).attr("fill", "#fff");

    letter(svg, "A", 18, 19);
    letter(svg, "B", 395, 19);
    letter(svg, "C", 882, 19);
    letter(svg, "D", 1535, 19);
    letter(svg, "E", 27, 435);
    letter(svg, "F", 43, 1284);

    drawAce(svg);
    drawPcoa(svg);
    drawStack(svg);
    drawFb(svg);
    drawClado(svg);

    const f1 = d3.format(".1f");
    const f3 = d3.format(".3f");
    const leftCol = { left: 98, right: 930, first: 112.1, labelX: 47 };
    const rightCol = { left: 1060.5, right: 1892, first: 1073.3, labelX: 1009.5 };
    drawAbundance(svg, {
      ...leftCol, title: "k__Bacteria.p__Firmicutes", titleX: 512, values: firmicutes, means: firmicutesMean, medians: firmicutesMedian,
      top: 1342.7, yMax: 0.871, ticks: [0, 0.1, 0.2, 0.3, 0.4, 0.5, 0.6, 0.7, 0.8], fmt: f1, labelY: 1500,
    });
    drawAbundance(svg, {
      ...rightCol, title: "k__Bacteria.p__Bacteroidota", titleX: 1475, values: bacteroidota, means: bacteroidotaMean, medians: bacteroidotaMedian,
      top: 1342.7, yMax: 0.568, ticks: [0, 0.1, 0.2, 0.3, 0.4, 0.5], fmt: f1, labelY: 1500,
    });
    drawAbundance(svg, {
      ...leftCol, labelX: 28.5, title: "k__Bacteria.p__Desulfobacterota", titleX: 513, values: desulfo, means: desulfoMean, medians: desulfoMedian,
      top: 1766.7, yMax: 0.00748, ticks: [0, 0.001, 0.002, 0.003, 0.004, 0.005, 0.006, 0.007], fmt: f3, labelY: 1923,
    });
    drawAbundance(svg, {
      ...rightCol, labelX: 990, title: "k__Bacteria.p__Actinobacteriota", titleX: 1475, values: actino, means: actinoMean, medians: actinoMedian,
      top: 1766.7, yMax: 0.0332, ticks: [0, 0.005, 0.01, 0.015, 0.02, 0.025, 0.03], fmt: f3, labelY: 1923,
    });
  }, []);

  return <svg ref={ref} width={1902} height={2093} viewBox="0 0 1902 2093" style={{ position: "absolute", left: 0, top: 0, display: "block" }}></svg>;
};

export default App;
